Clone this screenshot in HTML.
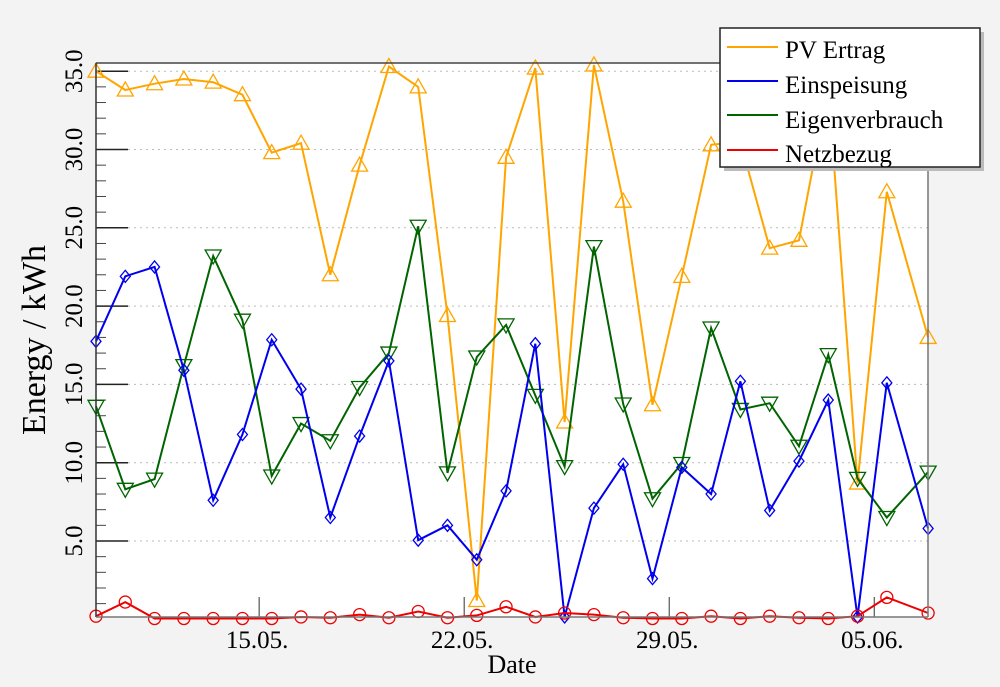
<!DOCTYPE html>
<html><head><meta charset="utf-8"><style>
html,body{margin:0;padding:0;background:#f3f3f3;}
svg{display:block;font-family:"Liberation Serif",serif;}
</style></head><body>
<svg id="chart" width="1000" height="687" viewBox="0 0 1000 687">
<rect x="0" y="0" width="1000" height="687" fill="#f3f3f3"/>
<rect x="96" y="63" width="832" height="554" fill="#ffffff"/>
<g id="grid"></g>
<g id="axes"></g>
<g id="series"></g>
<line x1="96" y1="63" x2="928" y2="63" stroke="#444" stroke-width="1.5"/>
<line x1="928" y1="63" x2="928" y2="617" stroke="#777" stroke-width="1.5"/>
<line x1="96" y1="63" x2="96" y2="617" stroke="#333" stroke-width="1.5"/>
<line x1="96" y1="617" x2="928" y2="617" stroke="#777" stroke-width="1.5"/>
<text x="45" y="340" font-size="34" text-anchor="middle" transform="rotate(-90 45 340)">Energy / kWh</text>
<text x="512" y="673" font-size="26" text-anchor="middle">Date</text>
<g>
<rect x="724" y="32" width="260" height="139" fill="#bbb"/>
<rect x="720" y="28" width="260" height="139" fill="#fff" stroke="#222" stroke-width="1.5"/>
<line x1="727" y1="47" x2="778" y2="47" stroke="#ffa500" stroke-width="2"/>
<text x="785" y="58" font-size="25">PV Ertrag</text>
<line x1="727" y1="81" x2="778" y2="81" stroke="#0000ee" stroke-width="2"/>
<text x="785" y="93" font-size="25">Einspeisung</text>
<line x1="727" y1="115" x2="778" y2="115" stroke="#006400" stroke-width="2"/>
<text x="785" y="128" font-size="25">Eigenverbrauch</text>
<line x1="727" y1="150" x2="778" y2="150" stroke="#ee0000" stroke-width="2"/>
<text x="785" y="162" font-size="25">Netzbezug</text>
</g>
</svg>
<script>
// day offsets (days since 09.05. 00:00)
const dayValues = [0.43,1.43,2.43,3.43,4.43,5.43,6.43,7.43,8.43,9.43,10.43,11.43,12.43,13.43,14.43,15.43,16.43,17.43,18.43,19.43,20.43,21.43,22.43,23.43,24.43,25.43,26.43,27.43,28.84];
const pvErtrag = [35.0,33.8,34.2,34.5,34.3,33.5,29.8,30.4,22.0,29.0,35.3,34.0,19.4,1.2,29.5,35.2,12.6,35.4,26.7,13.7,21.9,30.3,30.5,23.7,24.2,34.0,8.7,27.3,18.0];
const einspeisung = [17.75,21.9,22.5,15.9,7.6,11.8,17.85,14.7,6.5,11.7,16.5,5.05,6.0,3.8,8.2,17.6,0.15,7.1,9.9,2.6,9.7,8.0,15.2,6.95,10.1,14.0,0.15,15.1,5.8];
const eigenverbrauch = [13.6,8.3,8.95,16.2,23.2,19.1,9.15,12.5,11.4,14.8,17.0,25.1,9.35,16.75,18.8,14.3,9.75,23.8,13.75,7.7,9.95,18.6,13.4,13.8,11.05,16.9,9.0,6.5,9.4];
const netzbezug = [0.2,1.1,0.05,0.05,0.05,0.05,0.05,0.15,0.1,0.3,0.1,0.5,0.1,0.25,0.8,0.15,0.4,0.3,0.1,0.05,0.05,0.2,0.05,0.2,0.1,0.05,0.2,1.4,0.4];
const xTickDays = [6,13,20,27];
const xTickLabels = ["15.05.","22.05.","29.05.","05.06."];
const yTickValues = [5,10,15,20,25,30,35];
const yTickLabels = ["5.0","10.0","15.0","20.0","25.0","30.0","35.0"];

const NS = "http://www.w3.org/2000/svg";
const X0 = 96, DAYPX = 29.29;
function xScale(d){ return X0 + (d - 0.43) * DAYPX; }
function yScale(v){ return 619.3 - v * 15.66; }
function mk(tag, attrs, parent){ const e = document.createElementNS(NS, tag); for (const k in attrs) e.setAttribute(k, attrs[k]); parent.appendChild(e); return e; }

const grid = document.getElementById('grid');
const axes = document.getElementById('axes');
const series = document.getElementById('series');

for (let v = 1; v <= 35; v++) {
  if (v % 5 === 0) continue;
  const t = mk('line', {x1:96, x2:106, y1:yScale(v), y2:yScale(v), stroke:'#444', 'stroke-width':1}, axes);
  
  
}
yTickValues.forEach((v, i) => {
  const y = yScale(v);
  const g = mk('line', {x1:128, x2:928, y1:y, y2:y, stroke:'#bbb', 'stroke-width':1, 'stroke-dasharray':'2,4'}, grid);
  
  
  const t = mk('line', {x1:96, x2:128, y1:y, y2:y, stroke:'#222', 'stroke-width':1.5}, axes);
  
  
  const l = mk('text', {x:82, y:y, 'font-size':25, 'text-anchor':'middle', transform:'rotate(-90 82 ' + y + ')'}, axes);
  l.textContent = yTickLabels[i];
  
  
});
xTickDays.forEach((d, i) => {
  const x = xScale(d);
  const t = mk('line', {x1:x, x2:x, y1:617, y2:597, stroke:'#333', 'stroke-width':1}, axes);
  
  
  const l = mk('text', {x:x - 2, y:648, 'font-size':25, 'text-anchor':'middle'}, axes);
  l.textContent = xTickLabels[i];
  
  
});

function drawSeries(vals, color, marker, name){
  const g = mk('g', {}, series);
  
  
  const pts = vals.map((v, i) => xScale(dayValues[i]).toFixed(1) + ',' + yScale(v).toFixed(1)).join(' ');
  const pl = mk('polyline', {points:pts, fill:'none', stroke:color, 'stroke-width':2}, g);
  
  
  vals.forEach((v, i) => {
    const x = xScale(dayValues[i]), y = yScale(v);
    let m;
    if (marker === 'up') m = mk('polygon', {points:`${x},${y-8} ${x-8},${y+6} ${x+8},${y+6}`, fill:'none', stroke:color, 'stroke-width':1.3}, g);
    else if (marker === 'down') m = mk('polygon', {points:`${x},${y+8} ${x-8},${y-6} ${x+8},${y-6}`, fill:'none', stroke:color, 'stroke-width':1.3}, g);
    else if (marker === 'diamond') m = mk('polygon', {points:`${x},${y-6} ${x+5},${y} ${x},${y+6} ${x-5},${y}`, fill:'none', stroke:color, 'stroke-width':1.3}, g);
    else m = mk('circle', {cx:x, cy:y, r:6, fill:'none', stroke:color, 'stroke-width':1.3}, g);
    
    
  });
}
drawSeries(pvErtrag, '#ffa500', 'up', 'pv-ertrag');
drawSeries(eigenverbrauch, '#006400', 'down', 'eigenverbrauch');
drawSeries(einspeisung, '#0000ee', 'diamond', 'einspeisung');
drawSeries(netzbezug, '#ee0000', 'circle', 'netzbezug');
</script>
</body></html>
